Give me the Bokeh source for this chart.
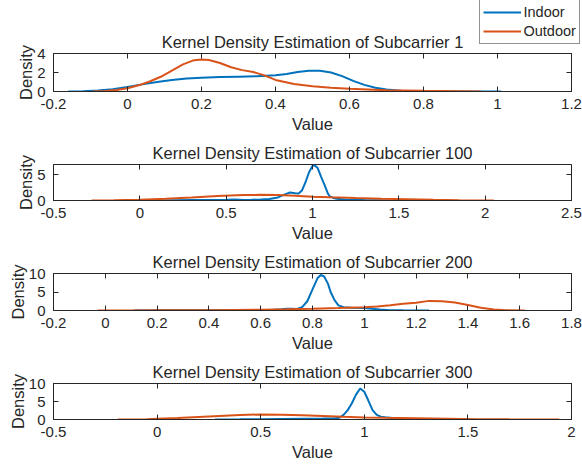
from bokeh.plotting import figure
from bokeh.layouts import column
from bokeh.models import Range1d, FixedTicker, LinearAxis, Legend, LegendItem
from bokeh.embed import file_html
from bokeh.resources import INLINE

FONT = "Liberation Sans"
INK = "#262626"
BLUE = "#0072BD"
ORANGE = "#D95319"

# ---- Subcarrier 1 ----
sc1_in_x = [-0.16, -0.12, -0.08, -0.04, 0.0, 0.04, 0.08, 0.12, 0.16, 0.2, 0.25, 0.3, 0.35, 0.4,
            0.43, 0.46, 0.49, 0.52, 0.55, 0.58, 0.61, 0.64, 0.67, 0.7, 0.74, 0.8, 0.9, 1.01]
sc1_in_y = [0.0, 0.03, 0.1, 0.25, 0.48, 0.75, 1.0, 1.2, 1.36, 1.46, 1.52, 1.56, 1.6, 1.7,
            1.85, 2.05, 2.18, 2.18, 2.0, 1.62, 1.12, 0.7, 0.4, 0.22, 0.08, 0.03, 0.01, 0.0]
sc1_out_x = [-0.095, -0.06, -0.03, 0.0, 0.03, 0.06, 0.09, 0.12, 0.15, 0.18, 0.2, 0.22, 0.25,
             0.28, 0.31, 0.34, 0.37, 0.4, 0.45, 0.5, 0.55, 0.6, 0.7, 0.8, 0.9, 0.955]
sc1_out_y = [0.0, 0.04, 0.15, 0.35, 0.65, 1.05, 1.55, 2.2, 2.85, 3.3, 3.38, 3.32, 3.0,
             2.55, 2.25, 2.05, 1.7, 1.22, 0.8, 0.55, 0.4, 0.28, 0.14, 0.07, 0.03, 0.0]

# ---- Subcarrier 100 ----
sc100_in_x = [0.1, 0.2, 0.3, 0.4, 0.5, 0.55, 0.6, 0.65, 0.7, 0.75, 0.8, 0.84, 0.87, 0.9, 0.92,
              0.94, 0.96, 0.98, 1.0, 1.01, 1.03, 1.05, 1.07, 1.09, 1.1, 1.12, 1.14, 1.2, 1.3, 1.44]
sc100_in_y = [0.0, 0.05, 0.1, 0.1, 0.15, 0.2, 0.12, 0.15, 0.2, 0.3, 0.6, 1.2, 1.55, 1.4, 1.35,
              2.0, 3.6, 5.5, 6.7, 6.9, 6.3, 4.6, 3.0, 1.3, 0.8, 0.5, 0.35, 0.15, 0.08, 0.0]
sc100_out_x = [-0.28, -0.15, 0.0, 0.15, 0.3, 0.45, 0.6, 0.7, 0.8, 0.9, 1.0, 1.1, 1.25, 1.4,
               1.55, 1.7, 1.85, 2.05]
sc100_out_y = [0.0, 0.05, 0.15, 0.35, 0.6, 0.88, 1.05, 1.1, 1.05, 0.92, 0.75, 0.62, 0.47, 0.35,
               0.25, 0.14, 0.06, 0.0]

# ---- Subcarrier 200 ----
sc200_in_x = [0.11, 0.2, 0.3, 0.4, 0.5, 0.6, 0.65, 0.68, 0.7, 0.72, 0.74, 0.76, 0.78, 0.8, 0.82,
              0.832, 0.845, 0.86, 0.87, 0.885, 0.9, 0.92, 0.95, 1.0, 1.03, 1.06, 1.1, 1.15, 1.25]
sc200_in_y = [0.0, 0.05, 0.08, 0.1, 0.12, 0.15, 0.2, 0.35, 0.5, 0.45, 0.4, 0.9, 2.5, 5.7, 8.8,
              9.6, 9.2, 7.2, 5.0, 2.8, 1.4, 0.9, 0.75, 0.65, 0.45, 0.25, 0.1, 0.05, 0.0]
sc200_out_x = [-0.03, 0.1, 0.2, 0.3, 0.4, 0.5, 0.6, 0.7, 0.8, 0.9, 1.0, 1.05, 1.1, 1.15, 1.2,
               1.25, 1.3, 1.35, 1.4, 1.45, 1.5, 1.55, 1.62]
sc200_out_y = [0.0, 0.03, 0.05, 0.07, 0.1, 0.15, 0.22, 0.32, 0.45, 0.65, 0.9, 1.1, 1.4, 1.8, 2.1,
               2.6, 2.5, 2.15, 1.5, 0.75, 0.3, 0.08, 0.0]

# ---- Subcarrier 300 ----
sc300_in_x = [0.28, 0.4, 0.5, 0.6, 0.7, 0.8, 0.85, 0.88, 0.9, 0.92, 0.94, 0.96, 0.98, 1.0,
              1.02, 1.04, 1.06, 1.08, 1.1, 1.15, 1.2, 1.28, 1.36]
sc300_in_y = [0.0, 0.05, 0.1, 0.15, 0.2, 0.25, 0.3, 0.5, 1.3, 2.6, 4.5, 6.9, 8.6, 7.7,
              5.2, 2.6, 1.3, 0.8, 0.6, 0.35, 0.2, 0.1, 0.0]
sc300_out_x = [-0.19, -0.05, 0.0, 0.1, 0.2, 0.3, 0.4, 0.5, 0.6, 0.7, 0.8, 0.9, 1.0, 1.1, 1.25,
               1.4, 1.55, 1.7, 1.94]
sc300_out_y = [0.0, 0.1, 0.2, 0.4, 0.7, 1.0, 1.25, 1.4, 1.35, 1.2, 1.0, 0.78, 0.58, 0.47, 0.33,
               0.2, 0.1, 0.04, 0.0]

# ---- axes ----
titles = ["Kernel Density Estimation of Subcarrier 1",
          "Kernel Density Estimation of Subcarrier 100",
          "Kernel Density Estimation of Subcarrier 200",
          "Kernel Density Estimation of Subcarrier 300"]
x_limits = [(-0.2, 1.2), (-0.5, 2.5), (-0.2, 1.8), (-0.5, 2.0)]
y_limits = [(0, 4), (0, 7), (0, 10), (0, 10)]
x_ticks = [[-0.2, 0, 0.2, 0.4, 0.6, 0.8, 1, 1.2],
           [-0.5, 0, 0.5, 1, 1.5, 2, 2.5],
           [-0.2, 0, 0.2, 0.4, 0.6, 0.8, 1, 1.2, 1.4, 1.6, 1.8],
           [-0.5, 0, 0.5, 1, 1.5, 2]]
x_tick_labels = [["-0.2", "0", "0.2", "0.4", "0.6", "0.8", "1", "1.2"],
                 ["-0.5", "0", "0.5", "1", "1.5", "2", "2.5"],
                 ["-0.2", "0", "0.2", "0.4", "0.6", "0.8", "1", "1.2", "1.4", "1.6", "1.8"],
                 ["-0.5", "0", "0.5", "1", "1.5", "2"]]
y_ticks = [[0, 2, 4], [0, 5], [0, 5, 10], [0, 5, 10]]
y_tick_labels = [["0", "2", "4"], ["0", "5"], ["0", "5", "10"], ["0", "5", "10"]]
series_names = ["Indoor", "Outdoor"]

indoor = [(sc1_in_x, sc1_in_y), (sc100_in_x, sc100_in_y),
          (sc200_in_x, sc200_in_y), (sc300_in_x, sc300_in_y)]
outdoor = [(sc1_out_x, sc1_out_y), (sc100_out_x, sc100_out_y),
           (sc200_out_x, sc200_out_y), (sc300_out_x, sc300_out_y)]

W = 582
LEFT, RIGHT = 53, 11
# panel heights and borders (px)
heights = [138, 109, 110, 111]
tops = [53, 24, 25, 24]
bottoms = [47, 47, 47, 49]
KEY_W, KEY_H, KEY_X = 104, 44, 476


def style_axis(ax, ticks, labels, show_labels=True):
    ax.ticker = FixedTicker(ticks=ticks)
    ax.major_label_overrides = {t: s for t, s in zip(ticks, labels)}
    ax.major_tick_in = 5
    ax.major_tick_out = 0
    ax.minor_tick_line_color = None
    ax.major_tick_line_color = INK
    ax.axis_line_color = INK
    ax.major_label_text_font = FONT
    ax.major_label_text_color = INK
    if show_labels:
        ax.major_label_text_font_size = "15px"
    else:
        ax.major_label_text_font_size = "0px"
        ax.major_label_standoff = 0
        ax.axis_line_color = None


figs = []
for i in range(4):
    p = figure(width=W, height=heights[i],
               x_range=Range1d(*x_limits[i]), y_range=Range1d(*y_limits[i]),
               output_backend="svg", toolbar_location=None,
               min_border_left=LEFT, min_border_right=RIGHT,
               min_border_top=tops[i], min_border_bottom=bottoms[i],
               title=titles[i])
    p.title.align = "center"
    p.title.text_font = FONT
    p.title.text_font_size = "16.5px"
    p.title.text_font_style = "normal"
    p.title.text_color = INK
    p.title.standoff = 6
    p.grid.visible = False
    p.outline_line_color = INK
    p.outline_line_width = 1
    p.background_fill_color = "white"
    p.border_fill_color = "white"

    style_axis(p.xaxis[0], x_ticks[i], x_tick_labels[i])
    p.xaxis[0].major_label_standoff = 7
    p.xaxis[0].axis_label = "Value"
    style_axis(p.yaxis[0], y_ticks[i], y_tick_labels[i])
    p.yaxis[0].major_label_standoff = 8
    p.yaxis[0].axis_label = "Density"
    for ax in (p.xaxis[0], p.yaxis[0]):
        ax.axis_label_text_font = FONT
        ax.axis_label_text_font_size = "16.5px"
        ax.axis_label_text_font_style = "normal"
        ax.axis_label_text_color = INK
    p.xaxis[0].axis_label_standoff = 3
    p.yaxis[0].axis_label_standoff = -1

    # mirrored ticks on the top and right edges of the box
    top_ax = LinearAxis()
    style_axis(top_ax, x_ticks[i], x_tick_labels[i], show_labels=False)
    p.add_layout(top_ax, "above")
    right_ax = LinearAxis()
    style_axis(right_ax, y_ticks[i], y_tick_labels[i], show_labels=False)
    p.add_layout(right_ax, "right")

    p.line(indoor[i][0], indoor[i][1], line_color=BLUE, line_width=2)
    p.line(outdoor[i][0], outdoor[i][1], line_color=ORANGE, line_width=2)
    figs.append(p)

# legend box floating over the top-right corner of the first panel; its key
# renderers repeat the first panel's series but sit outside this tiny view
key = figure(width=KEY_W, height=KEY_H, x_range=Range1d(10, 11), y_range=Range1d(10, 11),
             output_backend="svg", toolbar_location=None, title=None,
             x_axis_type=None, y_axis_type=None, frame_align=False,
             min_border_left=0, min_border_right=0, min_border_top=0, min_border_bottom=0,
             margin=(-heights[0], 0, heights[0] - KEY_H, KEY_X))
key.grid.visible = False
key.outline_line_color = None
key.background_fill_alpha = 0
key.border_fill_alpha = 0
key_in = key.line(sc1_in_x, sc1_in_y, line_color=BLUE, line_width=2)
key_out = key.line(sc1_out_x, sc1_out_y, line_color=ORANGE, line_width=2)
legend = Legend(items=[LegendItem(label=series_names[0], renderers=[key_in]),
                       LegendItem(label=series_names[1], renderers=[key_out])],
                location=(2.5, 0.5))
legend.label_text_font = FONT
legend.label_text_font_size = "14.5px"
legend.label_text_color = INK
legend.glyph_width = 38
legend.glyph_height = 18
legend.label_height = 18
legend.label_standoff = 3
legend.padding = 3
legend.spacing = 1
legend.margin = 0
legend.border_line_color = INK
legend.border_line_width = 1
legend.background_fill_color = "white"
legend.background_fill_alpha = 1.0
key.add_layout(legend)

layout = column(figs[0], key, *figs[1:], spacing=0)
open("out.html", "w").write(file_html(layout, INLINE))
